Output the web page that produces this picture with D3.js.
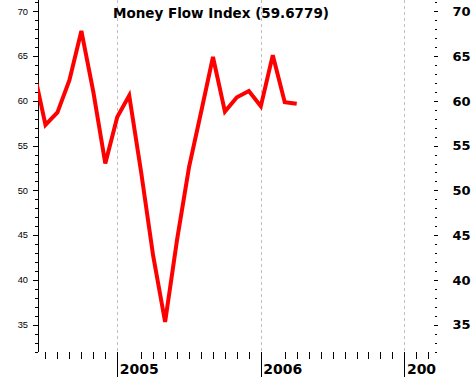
<!DOCTYPE html>
<html><head><meta charset="utf-8">
<script src="https://cdn.jsdelivr.net/npm/d3@7/dist/d3.min.js"></script>
<style>html,body{margin:0;padding:0;background:#fff;overflow:hidden}svg{display:block}</style>
</head><body><svg id="c" width="473" height="377"></svg>
<script>
// ---- data ----
const months = ["2004-06","2004-07","2004-08","2004-09","2004-10","2004-11","2004-12",
  "2005-01","2005-02","2005-03","2005-04","2005-05","2005-06","2005-07","2005-08","2005-09",
  "2005-10","2005-11","2005-12","2006-01","2006-02","2006-03","2006-04"];
const mfi = [63.5,57.3,58.7,62.3,67.8,61.0,53.0,
  58.2,60.6,52.0,42.7,35.3,44.5,52.6,58.7,64.9,
  58.8,60.4,61.1,59.4,65.1,59.85,59.68];
const title = "Money Flow Index (59.6779)";
const yMajor = [35,40,45,50,55,60,65,70];
const yMinor = d3.range(32,72);
const yearLabels = ["2005","2006","2007"];
const yearMonths = [12,24,36];           // month index since 2004-01
const minorMonths = [6,7,8,9,10,11,14,15,16,17,18,19,20,21,22,23,26,27,28,29,30,31,32,33,34,35,37,38];

// ---- layout ----
const L = 38, R = 434, T = 0, B = 351;
const mIdx = s => { const [y,m] = s.split("-").map(Number); return (y-2004)*12 + (m-1); };
const x = d3.scaleLinear().domain([5.4, 38.5]).range([L+0.3, R+0.3]);
const y = d3.scaleLinear().domain([32.06, 71.26]).range([B, T]);
const svg = d3.select("#c");
const BOLD = "'DejaVu Sans', Verdana, sans-serif";

svg.append("defs").append("clipPath").attr("id","pc")
  .append("rect").attr("x",L).attr("y",0).attr("width",R-L+1).attr("height",B+1);
svg.append("defs").append("clipPath").attr("id","bc")
  .append("rect").attr("x",0).attr("y",0).attr("width",R+2).attr("height",377);

// grid (year lines)
svg.append("g").selectAll("line").data(yearMonths).join("line")
  .attr("x1",d=>Math.round(x(d))+0.5).attr("x2",d=>Math.round(x(d))+0.5)
  .attr("y1",T).attr("y2",B)
  .attr("stroke","#c0c0c0").attr("stroke-dasharray","3,3").attr("shape-rendering","crispEdges");

// left axis
const ga = svg.append("g").attr("shape-rendering","crispEdges");
ga.append("line").attr("x1",L+0.5).attr("x2",L+0.5).attr("y1",T).attr("y2",B+0.5).attr("stroke","#000");
ga.selectAll(".mn").data(yMinor).join("line")
  .attr("x1",L-3).attr("x2",L).attr("y1",d=>Math.round(y(d))+0.5).attr("y2",d=>Math.round(y(d))+0.5)
  .attr("stroke","#000");
ga.selectAll(".mj").data(yMajor).join("line")
  .attr("x1",L-5).attr("x2",L).attr("y1",d=>Math.round(y(d))+0.5).attr("y2",d=>Math.round(y(d))+0.5)
  .attr("stroke","#000");
svg.append("g").selectAll("text").data(yMajor).join("text")
  .attr("x",28).attr("y",d=>y(d)).attr("dy","0.35em").attr("text-anchor","end")
  .attr("font-family","'Liberation Sans', Arial, sans-serif").attr("font-size","9.3px")
  .text(d=>d);

// right axis
const gr = svg.append("g").attr("shape-rendering","crispEdges");
gr.selectAll(".mn").data(yMinor).join("line")
  .attr("x1",R+1).attr("x2",R+3).attr("y1",d=>Math.round(y(d))+0.5).attr("y2",d=>Math.round(y(d))+0.5)
  .attr("stroke","#000");
gr.selectAll(".mj").data(yMajor).join("line")
  .attr("x1",R).attr("x2",R+4).attr("y1",d=>Math.round(y(d))+0.5).attr("y2",d=>Math.round(y(d))+0.5)
  .attr("stroke","#000");
svg.append("g").selectAll("text").data(yMajor).join("text")
  .attr("x",452.5).attr("y",d=>y(d)).attr("dy","0.36em")
  .attr("font-family",BOLD).attr("font-weight","bold").attr("font-size","13px")
  .text(d=>d);

// bottom axis
const gb = svg.append("g").attr("shape-rendering","crispEdges").attr("clip-path","url(#bc)");
gb.selectAll(".mn").data(minorMonths).join("line")
  .attr("x1",d=>Math.round(x(d))+0.5).attr("x2",d=>Math.round(x(d))+0.5)
  .attr("y1",B+1).attr("y2",B+8).attr("stroke","#000");
gb.selectAll(".mj").data(yearMonths).join("line")
  .attr("x1",d=>Math.round(x(d))+0.5).attr("x2",d=>Math.round(x(d))+0.5)
  .attr("y1",B+1).attr("y2",377).attr("stroke","#000");
gb.selectAll("text").data(yearMonths).join("text")
  .attr("x",d=>x(d)+2.5).attr("y",373.5)
  .attr("font-family",BOLD).attr("font-weight","bold").attr("font-size","14px")
  .text((d,i)=>yearLabels[i]);

// line
svg.append("path").datum(months.map((m,i)=>[mIdx(m), mfi[i]]))
  .attr("clip-path","url(#pc)")
  .attr("fill","none").attr("stroke","#ff0000").attr("stroke-width",4)
  .attr("d", d3.line().x(d=>x(d[0])).y(d=>y(d[1])));

// title
svg.append("text").attr("x",113).attr("y",18)
  .attr("font-family",BOLD).attr("font-weight","bold").attr("font-size","13.5px")
  .text(title);
</script></body></html>
